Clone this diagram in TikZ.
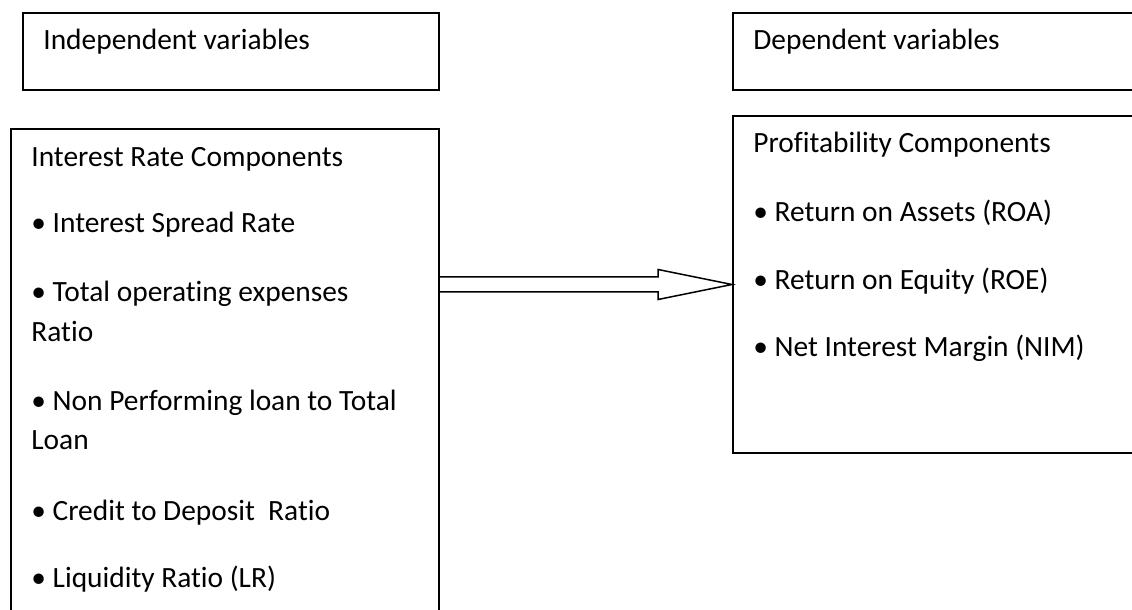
\documentclass[tikz,border=0pt]{standalone}
\usepackage{fontspec}
\setmainfont{Carlito}[Ligatures=CommonOff]
\usetikzlibrary{calc}

\begin{document}
\begin{tikzpicture}[
  x=0.5pt, y=-0.5pt,
  box/.style={draw, line width=1pt, inner sep=0pt, anchor=north west},
  txt/.style={anchor=base west, inner sep=0pt, font=\fontsize{14.7}{17}\selectfont},
  hollow/.style={draw, line width=0.75pt, fill=white, line join=miter}
]
  \useasboundingbox (0,0) rectangle (1132,610);
  \clip (0,0) rectangle (1132,610);
  % frames
  \node[box, minimum width=208pt, minimum height=38.5pt] (ivhead) at (22,12) {};
  \node[box, minimum width=250pt, minimum height=38.5pt] (dvhead) at (732,12) {};
  \node[box, minimum width=214pt, minimum height=286pt] (ivbox) at (10,128) {};
  \node[box, minimum width=250pt, minimum height=168.5pt] (dvbox) at (732,115) {};
  % headings
  \node[txt] (ivtitle) at (43,50) {Independent variables};
  \node[txt] (dvtitle) at (753,50) {Dependent variables};
  % left list
  \node[txt] (ircomp) at (31,167) {Interest Rate Components};
  \node[txt] (isr) at (31,233) {• Interest Spread Rate};
  \node[txt] (toe) at (31,302) {• Total operating expenses};
  \node[txt] (toe2) at (31,342) {Ratio};
  \node[txt] (npl) at (31,410) {• Non Performing loan to Total};
  \node[txt] (npl2) at (31,450) {Loan};
  \node[txt] (cdr) at (31,520) {• Credit to Deposit\ \ Ratio};
  \node[txt] (lr) at (31,587) {• Liquidity Ratio (LR)};
  % right list
  \node[txt] (pcomp) at (753,153) {Profitability Components};
  \node[txt] (roa) at (753,222) {• Return on Assets (ROA)};
  \node[txt] (roe) at (753,290) {• Return on Equity (ROE)};
  \node[txt] (nim) at (753,357) {• Net Interest Margin (NIM)};
  % block arrow
  \coordinate (tail) at (ivbox.east |- dvbox.west);
  \coordinate (tip) at (dvbox.west);
  \draw[hollow] ($(tail)+(0,-7.5)$) -- ($(tip)+(-74,-7.5)$) -- ($(tip)+(-74,-15)$)
    -- (tip) -- ($(tip)+(-74,15)$) -- ($(tip)+(-74,7.5)$) -- ($(tail)+(0,7.5)$);
\end{tikzpicture}
\end{document}
